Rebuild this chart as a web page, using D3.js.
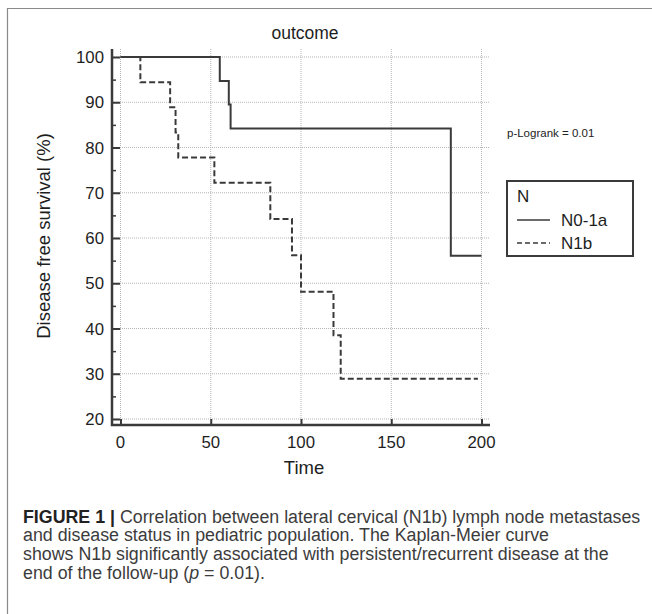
<!DOCTYPE html>
<html>
<head>
<meta charset="utf-8">
<script src="https://cdn.jsdelivr.net/npm/d3@7"></script>
<style>
  body { margin: 0; background: #fff; }
  svg { display: block; }
</style>
</head>
<body>
<div id="chart"></div>
<script>
(function() {

const width = 652,
      height = 614

// Kaplan-Meier steps, [time, survival %]
const n01aSteps = [[0, 100], [55, 94.7], [60, 89.5], [61, 84.2], [183, 56.1], [200, 56.1]]
const n1bSteps = [[0, 100], [11, 94.4], [27.5, 88.9], [30.5, 83.3], [32, 77.8], [52, 72.2],
                  [83, 64.2], [95, 56.2], [100, 48.1], [118, 38.5], [122, 28.9], [198, 28.9]]
const xTicks = [0, 50, 100, 150, 200]
const yTicks = [20, 30, 40, 50, 60, 70, 80, 90, 100]
const yMinorTicks = [25, 35, 45, 55, 65, 75, 85, 95]
const legendLabels = ['N0-1a', 'N1b']
const captionLines = [
  ['FIGURE 1 |', ' Correlation between lateral cervical (N1b) lymph node metastases'],
  ['', 'and disease status in pediatric population. The Kaplan-Meier curve'],
  ['', 'shows N1b significantly associated with persistent/recurrent disease at the'],
  ['', 'end of the follow-up (', 'p', ' = 0.01).']
]

const ink = '#3a3a3a'
const font = '"Liberation Sans", Arial, sans-serif'

const svg = d3.select('#chart')
  .append('svg')
  .attr('width', width)
  .attr('height', height)

// figure frame (left and top edges)
svg.append('path')
  .attr('d', 'M7.5,' + height + 'V8.5H' + width)
  .attr('fill', 'none')
  .attr('stroke', '#8a8a8a')
  .attr('stroke-width', 1.2)

const x = d3.scaleLinear().domain([0, 200]).range([120.5, 481.5])
const y = d3.scaleLinear().domain([20, 100]).range([419, 57])

const axisLeft = 112,
      axisBottom = 425,
      plotRight = 490,
      plotTop = 49

// dotted grid
svg.append('g')
  .selectAll('line')
  .data(yTicks)
  .enter()
  .append('line')
  .attr('x1', axisLeft)
  .attr('x2', plotRight)
  .attr('y1', d => y(d))
  .attr('y2', d => y(d))
  .attr('stroke', '#b5b5b5')
  .attr('stroke-width', 1)
  .attr('stroke-dasharray', '1,1')

svg.append('g')
  .selectAll('line')
  .data(xTicks)
  .enter()
  .append('line')
  .attr('x1', d => x(d))
  .attr('x2', d => x(d))
  .attr('y1', plotTop)
  .attr('y2', axisBottom)
  .attr('stroke', '#b5b5b5')
  .attr('stroke-width', 1)
  .attr('stroke-dasharray', '1,1')

// y axis, ticks pointing inward
const yAxis = svg.append('g')
  .attr('transform', 'translate(' + axisLeft + ',0)')
  .call(d3.axisRight(y).tickValues(yTicks).tickSize(8).tickFormat(''))
yAxis.select('.domain').remove()
yAxis.selectAll('line').attr('stroke', ink).attr('stroke-width', 2)

const yMinor = svg.append('g')
  .attr('transform', 'translate(' + axisLeft + ',0)')
  .call(d3.axisRight(y).tickValues(yMinorTicks).tickSize(4).tickFormat(''))
yMinor.select('.domain').remove()
yMinor.selectAll('line').attr('stroke', ink).attr('stroke-width', 1.5)

svg.append('g')
  .selectAll('text')
  .data(yTicks)
  .enter()
  .append('text')
  .attr('x', axisLeft - 8)
  .attr('y', d => y(d))
  .attr('dy', '0.36em')
  .attr('text-anchor', 'end')
  .style('font-family', font)
  .style('font-size', '16.8px')
  .style('fill', '#1e1e1e')
  .text(d => d)

// x axis, ticks pointing up
const xAxis = svg.append('g')
  .attr('transform', 'translate(0,' + axisBottom + ')')
  .call(d3.axisTop(x).tickValues(xTicks).tickSize(6).tickFormat(''))
xAxis.select('.domain').remove()
xAxis.selectAll('line').attr('stroke', ink).attr('stroke-width', 2)

svg.append('g')
  .selectAll('text')
  .data(xTicks)
  .enter()
  .append('text')
  .attr('x', d => x(d))
  .attr('y', axisBottom + 23)
  .attr('text-anchor', 'middle')
  .style('font-family', font)
  .style('font-size', '16.8px')
  .style('fill', '#1e1e1e')
  .text(d => d)

// axis lines
svg.append('path')
  .attr('d', 'M' + axisLeft + ',' + plotTop + 'V' + axisBottom + 'H' + plotRight)
  .attr('fill', 'none')
  .attr('stroke', ink)
  .attr('stroke-width', 2.5)

// survival curves
const line = d3.line()
  .x(d => x(d[0]))
  .y(d => y(d[1]))
  .curve(d3.curveStepAfter)

svg.append('path')
  .datum(n01aSteps)
  .attr('d', line)
  .attr('fill', 'none')
  .attr('stroke', ink)
  .attr('stroke-width', 2)

svg.append('path')
  .datum(n1bSteps)
  .attr('d', line)
  .attr('fill', 'none')
  .attr('stroke', ink)
  .attr('stroke-width', 2)
  .attr('stroke-dasharray', '6,3')

// titles
svg.append('text')
  .attr('x', 305)
  .attr('y', 39)
  .attr('text-anchor', 'middle')
  .style('font-family', font)
  .style('font-size', '17.5px')
  .style('fill', '#1e1e1e')
  .text('outcome')

svg.append('text')
  .attr('x', 304)
  .attr('y', 474)
  .attr('text-anchor', 'middle')
  .style('font-family', font)
  .style('font-size', '18.5px')
  .style('fill', '#1e1e1e')
  .text('Time')

svg.append('text')
  .attr('transform', 'translate(50,' + 236 + ') rotate(-90)')
  .attr('text-anchor', 'middle')
  .style('font-family', font)
  .style('font-size', '18.5px')
  .style('fill', '#1e1e1e')
  .text('Disease free survival (%)')

svg.append('text')
  .attr('x', 507)
  .attr('y', 137)
  .style('font-family', font)
  .style('font-size', '11.5px')
  .style('fill', '#222')
  .text('p-Logrank = 0.01')

// legend
const legend = svg.append('g')
svg.append('rect')
  .attr('x', 507)
  .attr('y', 181)
  .attr('width', 126)
  .attr('height', 75)
  .attr('fill', 'none')
  .attr('stroke', ink)
  .attr('stroke-width', 2)

legend.append('text')
  .attr('x', 517)
  .attr('y', 202)
  .style('font-family', font)
  .style('font-size', '17px')
  .style('fill', '#1e1e1e')
  .text('N')

legendLabels.forEach(function(label, i) {
  const ly = 220 + i * 23
  legend.append('line')
    .attr('x1', 517)
    .attr('x2', 550)
    .attr('y1', ly)
    .attr('y2', ly)
    .attr('stroke', ink)
    .attr('stroke-width', 1.6)
    .attr('stroke-dasharray', i === 1 ? '5,3' : null)
  legend.append('text')
    .attr('x', 561)
    .attr('y', ly + 6)
    .style('font-family', font)
    .style('font-size', '17px')
    .style('fill', '#1e1e1e')
    .text(label)
})

// caption
const caption = svg.append('g')
  .style('font-family', font)
  .style('font-size', '17px')
captionLines.forEach(function(parts, i) {
  const t = caption.append('text')
    .attr('x', 23)
    .attr('y', 522.5 + i * 18.8)
    .style('fill', '#3c3c3c')
  parts.forEach(function(p, j) {
    if (!p) return
    const span = t.append('tspan').text(p)
    if (i === 0 && j === 0) span.style('font-weight', 700).style('fill', '#222')
    if (i === 3 && j === 2) span.style('font-style', 'italic')
  })
})
// fit the first caption line to the reference width
const firstWidth = caption.select('text').node().getComputedTextLength()
caption.style('font-size', (17 * 618 / firstWidth) + 'px')

})()
</script>
</body>
</html>
